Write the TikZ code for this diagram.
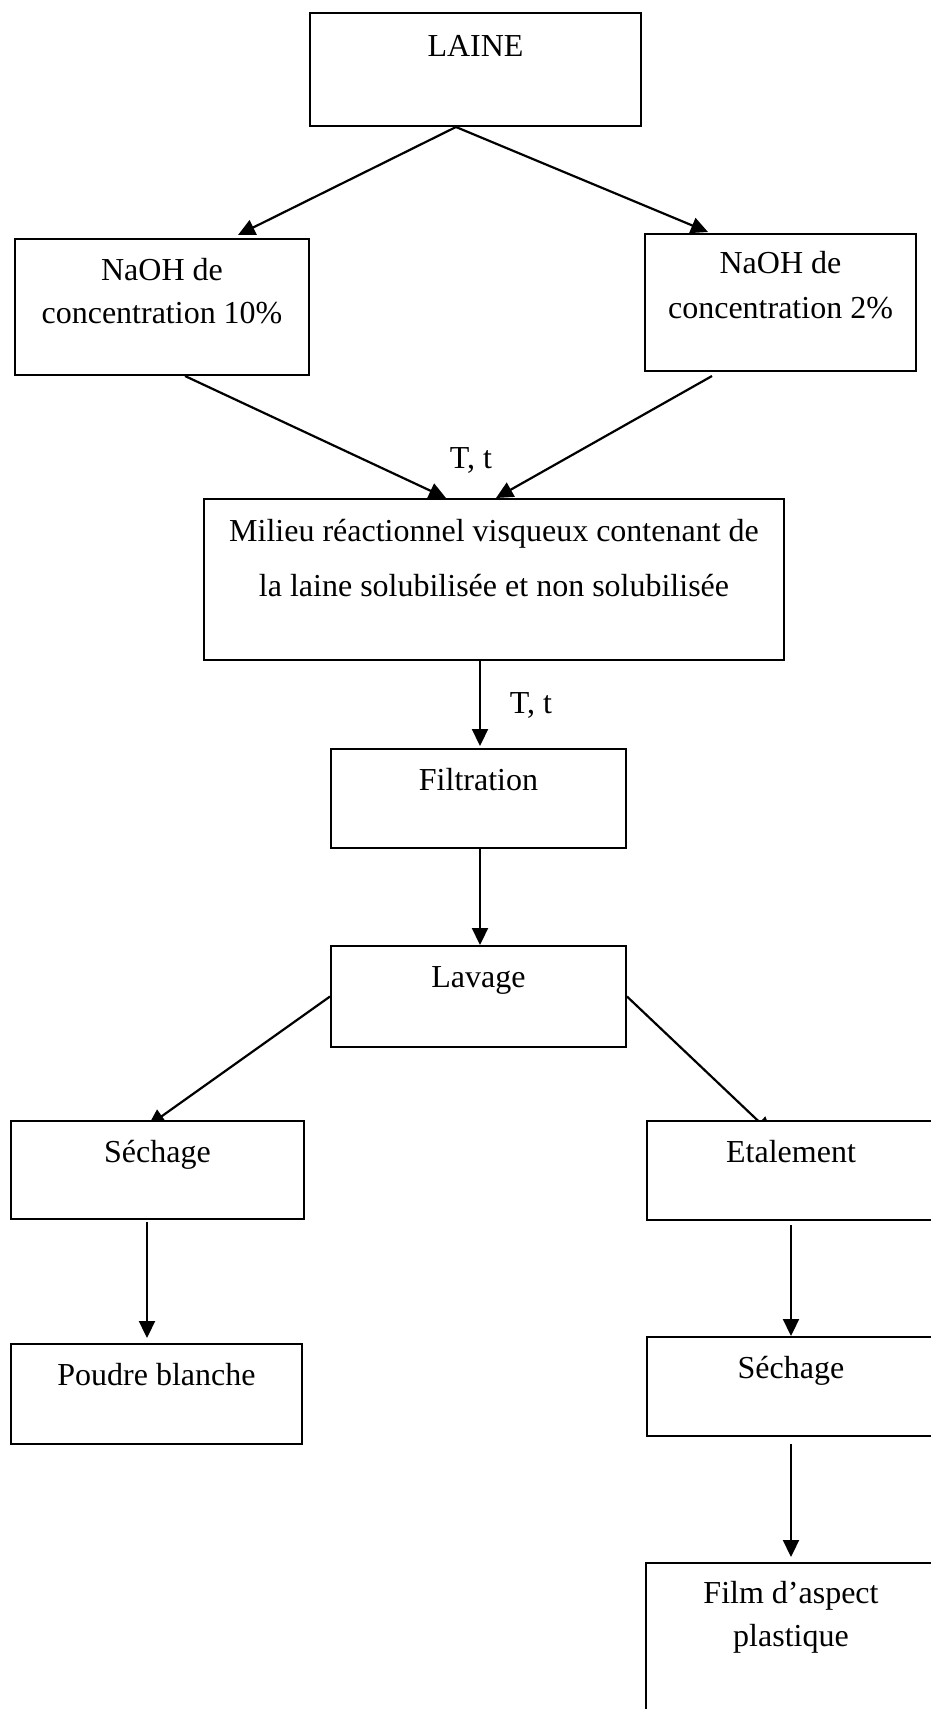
\documentclass[tikz,border=0pt]{standalone}
\usepackage{fontspec}
\setmainfont{Liberation Serif}
\usetikzlibrary{arrows.meta,calc}
\pgfdeclarelayer{background}
\pgfsetlayers{background,main}

\begin{document}
\begin{tikzpicture}[x=1pt,y=-1pt,
  box/.style={draw,line width=2pt,fill=white,inner sep=0pt},
  txt/.style={anchor=base,align=center,inner sep=0pt,
    font=\fontsize{32}{43}\selectfont},
  flow/.style={line width=2.2pt,-{Triangle[length=17pt,width=16pt]}}]

\useasboundingbox (0,0) rectangle (930,1709);

% process boxes
\node[box,minimum width=331pt,minimum height=113pt] (laine) at (475.5,69.5) {};
\node[box,minimum width=294pt,minimum height=136pt] (naoh10) at (162,307) {};
\node[box,minimum width=271pt,minimum height=137pt] (naoh2) at (780.5,302.5) {};
\node[box,minimum width=580pt,minimum height=161pt] (milieu) at (494,579.5) {};
\node[box,minimum width=295pt,minimum height=99pt] (filt) at (478.5,798.5) {};
\node[box,minimum width=295pt,minimum height=101pt] (lav) at (478.5,996.5) {};
\node[box,minimum width=293pt,minimum height=98pt] (sech1) at (157.5,1170) {};
\node[box,minimum width=291pt,minimum height=100pt] (poudre) at (156.5,1394) {};
\node[box,minimum width=288pt,minimum height=99pt] (etal) at (791,1170.5) {};
\node[box,minimum width=288pt,minimum height=99pt] (sech2) at (791,1386.5) {};
\node[box,minimum width=290pt,minimum height=217pt] (film) at (791,1671.5) {};

% box texts (anchored on the baseline of their last line)
\node[txt] (laine-t) at ($(laine.north)+(0,44)$) {LAINE};
\node[txt,font=\fontsize{32}{43}\selectfont] (naoh10-t) at ($(naoh10.north)+(0,85)$) {NaOH de\\concentration 10\%};
\node[txt,font=\fontsize{32}{45}\selectfont] (naoh2-t) at ($(naoh2.north)+(0,85)$) {NaOH de\\concentration 2\%};
\node[txt,font=\fontsize{32}{55}\selectfont] (milieu-t) at ($(milieu.north)+(0,98)$) {Milieu réactionnel visqueux contenant de\\la laine solubilisée et non solubilisée};
\node[txt] (filt-t) at ($(filt.north)+(0,42)$) {Filtration};
\node[txt] (lav-t) at ($(lav.north)+(0,42)$) {Lavage};
\node[txt] (sech1-t) at ($(sech1.north)+(0,42)$) {Séchage};
\node[txt] (poudre-t) at ($(poudre.north)+(0,42)$) {Poudre blanche};
\node[txt] (etal-t) at ($(etal.north)+(0,42)$) {Etalement};
\node[txt] (sech2-t) at ($(sech2.north)+(0,42)$) {Séchage};
\node[txt] (film-t) at ($(film.north)+(0,84)$) {Film d’aspect\\plastique};

% conditions
\node[txt] (cond1) at (471,468) {T, t};
\node[txt] (cond2) at (531,713) {T, t};

% connectors (under the boxes)
\begin{pgfonlayer}{background}
\draw[flow] ($(laine.south)+(-19.5,0)$) -- ($(naoh10.north)+(76,-3)$);
\draw[flow] ($(laine.south)+(-19.5,0)$) -- ($(naoh2.north)+(-72.5,-1)$);
\draw[flow] ($(naoh10.south)+(23,0)$) -- ($(milieu.north)+(-48,0)$);
\draw[flow] ($(naoh2.south)+(-68.5,4)$) -- ($(milieu.north)+(2,0)$);
\draw[flow] ($(milieu.south)+(-14,0)$) -- ($(filt.north)+(1.5,-2)$);
\draw[flow] ($(filt.south)+(1.5,0)$) -- ($(lav.north)+(1.5,0)$);
\draw[flow] (lav.west) -- ($(sech1.north)+(-9.5,6)$);
\draw[flow] (lav.east) -- ($(etal.north)+(-19,14)$);
\draw[flow] ($(sech1.south)+(-10.5,2)$) -- ($(poudre.north)+(-9.5,-5)$);
\draw[flow] ($(etal.south)+(0,4)$) -- (sech2.north);
\draw[flow] ($(sech2.south)+(0,7)$) -- ($(film.north)+(0,-5)$);
\end{pgfonlayer}
\end{tikzpicture}
\end{document}
